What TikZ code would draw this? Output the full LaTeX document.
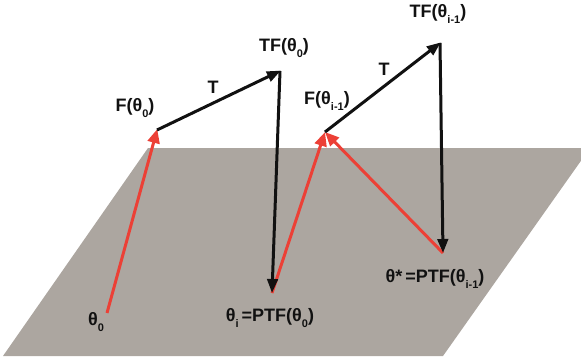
\documentclass[tikz,border=0pt]{standalone}
\usepackage{fontspec}
\setmainfont{Liberation Sans}
\usetikzlibrary{arrows.meta}
\definecolor{plane}{RGB}{172,166,160}
\definecolor{redar}{RGB}{236,64,54}
\definecolor{blkar}{RGB}{17,17,17}
\newcommand\sbx[1]{\raisebox{-0.38em}{\fontsize{11}{11}\selectfont #1}}
\begin{document}
\begin{tikzpicture}[x=1pt,y=-1pt,
  lbl/.style={font=\fontsize{18}{20}\selectfont\bfseries, text=blkar, inner sep=0pt},
  redarrow/.style={draw=redar, line width=3pt, -{Triangle[length=14pt,width=12pt]}},
  blkarrow/.style={draw=blkar, line width=3pt, -{Triangle[length=14pt,width=10.5pt]}}]
\useasboundingbox (0,0) rectangle (581,359);
\fill[plane] (148,148) -- (590,148) -- (443,356) -- (3,356) -- cycle;
\coordinate (t0) at (107,313);
\coordinate (f0) at (157,130);
\coordinate (tf0) at (280,71);
\coordinate (ti) at (272,293);
\coordinate (f1) at (325,132);
\coordinate (tf1) at (440,43);
\coordinate (ts) at (443,253);
\draw[redarrow, shorten >=-1pt] (t0) -- (f0);
\draw[redarrow] (ti) -- (f1);
\draw[redarrow] (ts) -- (f1);
\draw[blkarrow, shorten >=-1pt] (f0) -- (tf0);
\draw[blkarrow] (tf0) -- (ti);
\draw[blkarrow, shorten >=-1pt] (f1) -- (tf1);
\draw[blkarrow] (tf1) -- (ts);
\node[lbl] (lf0) at (135,108) {F(θ\sbx{0})};
\node[lbl] (lT1) at (213,87) {T};
\node[lbl] (ltf0) at (284,48) {TF(θ\sbx{0})};
\node[lbl] (lf1) at (327,101) {F(θ\sbx{i-1})};
\node[lbl] (lT2) at (384,69) {T};
\node[lbl] (ltf1) at (438,14) {TF(θ\sbx{i-1})};
\node[lbl] (lti) at (270,318) {θ\sbx{i}\,=PTF(θ\sbx{0})};
\node[lbl] (lts) at (435,279) {θ*\,=PTF(θ\sbx{i-1})};
\node[lbl] (lt0) at (96,322) {θ\sbx{0}};
\end{tikzpicture}
\end{document}
